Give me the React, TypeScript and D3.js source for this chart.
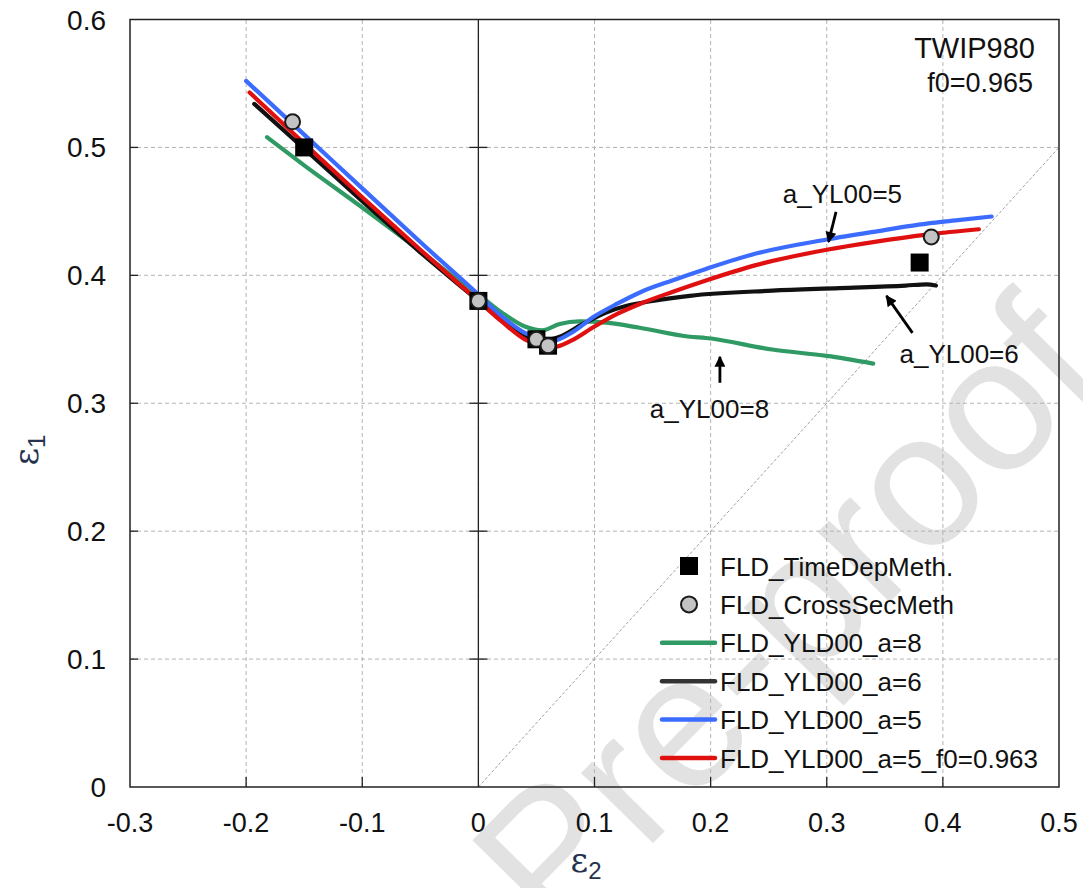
import { useEffect, useRef } from 'react';
import * as d3 from 'd3';

type Pt = [number, number];

const W = 1083;
const H = 888;

const xTicks = [-0.3, -0.2, -0.1, 0, 0.1, 0.2, 0.3, 0.4, 0.5];
const yTicks = [0, 0.1, 0.2, 0.3, 0.4, 0.5, 0.6];
const xTickLabels = ['-0.3', '-0.2', '-0.1', '0', '0.1', '0.2', '0.3', '0.4', '0.5'];
const yTickLabels = ['0', '0.1', '0.2', '0.3', '0.4', '0.5', '0.6'];

// FLD curves (eps2, eps1)
const fldA8: Pt[] = [
  [-0.182, 0.508], [-0.150, 0.486], [-0.100, 0.453], [-0.050, 0.419], [-0.020, 0.398],
  [0.000, 0.385], [0.020, 0.371], [0.040, 0.360], [0.055, 0.357], [0.070, 0.362],
  [0.087, 0.364], [0.110, 0.363], [0.139, 0.359], [0.182, 0.352], [0.196, 0.351],
  [0.253, 0.342], [0.300, 0.337], [0.340, 0.331],
];
const fldA6: Pt[] = [
  [-0.193, 0.534], [-0.150, 0.499], [-0.100, 0.458], [-0.050, 0.418], [0.000, 0.380],
  [0.020, 0.365], [0.040, 0.352], [0.053, 0.349], [0.070, 0.352], [0.090, 0.362],
  [0.110, 0.371], [0.127, 0.376], [0.150, 0.380], [0.182, 0.384],
  [0.253, 0.388], [0.311, 0.390], [0.368, 0.392], [0.386, 0.393], [0.394, 0.392],
];
const fldA5: Pt[] = [
  [-0.200, 0.552], [-0.150, 0.510], [-0.100, 0.468], [-0.050, 0.426], [0.000, 0.385],
  [0.020, 0.368], [0.040, 0.355], [0.055, 0.350], [0.065, 0.349], [0.080, 0.355],
  [0.100, 0.368], [0.120, 0.378], [0.140, 0.387], [0.167, 0.396], [0.196, 0.405],
  [0.239, 0.417], [0.300, 0.428], [0.340, 0.434], [0.391, 0.441], [0.411, 0.443],
  [0.442, 0.446],
];
const fldA5f963: Pt[] = [
  [-0.197, 0.543], [-0.150, 0.503], [-0.100, 0.461], [-0.050, 0.420], [0.000, 0.380],
  [0.020, 0.364], [0.040, 0.350], [0.055, 0.345], [0.065, 0.344], [0.080, 0.349],
  [0.100, 0.360], [0.120, 0.370], [0.140, 0.378], [0.167, 0.387], [0.196, 0.396],
  [0.239, 0.408], [0.300, 0.420], [0.340, 0.426], [0.388, 0.432], [0.431, 0.436],
];

const timeDepPts: Pt[] = [[-0.15, 0.50], [0.0, 0.38], [0.05, 0.35], [0.06, 0.345], [0.38, 0.41]];
const crossSecPts: Pt[] = [[-0.16, 0.52], [0.0, 0.38], [0.05, 0.35], [0.06, 0.345], [0.39, 0.43]];

const legendLabels = [
  'FLD_TimeDepMeth.',
  'FLD_CrossSecMeth',
  'FLD_YLD00_a=8',
  'FLD_YLD00_a=6',
  'FLD_YLD00_a=5',
  'FLD_YLD00_a=5_f0=0.963',
];

// annotation label anchor and arrow (from -> to) in data units
const annLabels = ['a_YL00=5', 'a_YL00=6', 'a_YL00=8'];
const annText: Pt[] = [[0.3135, 0.4566], [0.414, 0.3315], [0.199, 0.2885]];
const annFrom: Pt[] = [[0.308, 0.4496], [0.3738, 0.355], [0.208, 0.316]];
const annTo: Pt[] = [[0.3015, 0.4261], [0.3514, 0.3839], [0.208, 0.3363]];

const C_GREEN = '#2f9a63';
const C_BLACK = '#111111';
const C_BLUE = '#3b6cff';
const C_RED = '#e01010';
const FONT = '"Liberation Sans", Arial, sans-serif';

export default function App() {
  const ref = useRef<SVGSVGElement>(null);

  useEffect(() => {
    const svg = d3.select(ref.current);
    svg.selectAll('*').remove();

    const x = d3.scaleLinear().domain([-0.3, 0.5]).range([130, 1059]);
    const y = d3.scaleLinear().domain([0, 0.6]).range([787, 19.5]);

    svg.append('rect').attr('width', W).attr('height', H).attr('fill', '#fff');

    // watermark
    svg.append('text')
      .attr('transform', 'translate(1110,378) rotate(-45.5)')
      .attr('text-anchor', 'end')
      .style('font-family', FONT).style('font-size', '190px')
      .attr('fill', '#e2e2e2')
      .text('Journal Pre-proof');

    // grid
    const gridX = xTicks.slice(1, -1);
    const gridY = yTicks.slice(1, -1);
    svg.selectAll('line.gx').data(gridX).enter().append('line').attr('class', 'gx')
      .attr('x1', d => x(d)).attr('x2', d => x(d)).attr('y1', y(0)).attr('y2', y(0.6))
      .attr('stroke', '#b4b4b4').attr('stroke-width', 1).attr('stroke-dasharray', '4,3');
    svg.selectAll('line.gy').data(gridY).enter().append('line').attr('class', 'gy')
      .attr('x1', x(-0.3)).attr('x2', x(0.5)).attr('y1', d => y(d)).attr('y2', d => y(d))
      .attr('stroke', '#b4b4b4').attr('stroke-width', 1).attr('stroke-dasharray', '4,3');

    // diagonal eps1 = eps2
    svg.append('line')
      .attr('x1', x(0)).attr('y1', y(0)).attr('x2', x(0.5)).attr('y2', y(0.5))
      .attr('stroke', '#a0a0a0').attr('stroke-width', 1).attr('stroke-dasharray', '3,2');

    // zero line with cross ticks
    svg.append('line').attr('x1', x(0)).attr('x2', x(0)).attr('y1', y(0)).attr('y2', y(0.6))
      .attr('stroke', '#222').attr('stroke-width', 1.3);
    svg.selectAll('line.zt').data(gridY).enter().append('line').attr('class', 'zt')
      .attr('x1', x(0) - 9).attr('x2', x(0) + 9).attr('y1', d => y(d)).attr('y2', d => y(d))
      .attr('stroke', '#222').attr('stroke-width', 1.3);

    // frame
    svg.append('rect')
      .attr('x', x(-0.3)).attr('y', y(0.6)).attr('width', x(0.5) - x(-0.3)).attr('height', y(0) - y(0.6))
      .attr('fill', 'none').attr('stroke', '#222').attr('stroke-width', 1.5);

    // axis ticks
    svg.selectAll('line.bt').data(gridX.filter(d => d !== 0)).enter().append('line').attr('class', 'bt')
      .attr('x1', d => x(d)).attr('x2', d => x(d)).attr('y1', y(0)).attr('y2', y(0) - 10)
      .attr('stroke', '#222').attr('stroke-width', 1.3);
    svg.selectAll('line.lt').data(gridY).enter().append('line').attr('class', 'lt')
      .attr('x1', x(-0.3)).attr('x2', x(-0.3) + 8).attr('y1', d => y(d)).attr('y2', d => y(d))
      .attr('stroke', '#222').attr('stroke-width', 1.3);

    // tick labels
    svg.selectAll('text.xl').data(xTicks).enter().append('text').attr('class', 'xl')
      .attr('x', d => x(d)).attr('y', 832).attr('text-anchor', 'middle')
      .style('font-family', FONT).style('font-size', '27px').attr('fill', '#111')
      .text((_, i) => xTickLabels[i]);
    svg.selectAll('text.yl').data(yTicks).enter().append('text').attr('class', 'yl')
      .attr('x', 106).attr('y', d => y(d) + 10).attr('text-anchor', 'end')
      .style('font-family', FONT).style('font-size', '28px').attr('fill', '#111')
      .text((_, i) => yTickLabels[i]);

    // axis titles
    const t2 = svg.append('text').attr('x', 586).attr('y', 872).attr('text-anchor', 'middle')
      .style('font-family', '"DejaVu Serif", serif').style('font-size', '34px').attr('fill', '#26324d');
    t2.append('tspan').text('ε');
    t2.append('tspan').attr('dy', 7).style('font-size', '24px').style('font-family', FONT).text('2');
    const t1 = svg.append('text').attr('transform', 'translate(38,450) rotate(-90)').attr('text-anchor', 'middle')
      .style('font-family', '"DejaVu Serif", serif').style('font-size', '34px').attr('fill', '#26324d');
    t1.append('tspan').text('ε');
    t1.append('tspan').attr('dy', 7).style('font-size', '24px').style('font-family', FONT).text('1');

    // curves
    const line = d3.line<Pt>().x(d => x(d[0])).y(d => y(d[1])).curve(d3.curveMonotoneX);
    const curves: [Pt[], string][] = [[fldA8, C_GREEN], [fldA6, C_BLACK], [fldA5, C_BLUE], [fldA5f963, C_RED]];
    curves.forEach(([data, color]) => {
      svg.append('path').attr('d', line(data) || '').attr('fill', 'none')
        .attr('stroke', color).attr('stroke-width', 4.2).attr('stroke-linecap', 'round').attr('stroke-linejoin', 'round');
    });

    // markers
    const sq = 18;
    svg.selectAll('rect.td').data(timeDepPts).enter().append('rect').attr('class', 'td')
      .attr('x', d => x(d[0]) - sq / 2).attr('y', d => y(d[1]) - sq / 2)
      .attr('width', sq).attr('height', sq).attr('fill', '#000');
    svg.selectAll('circle.cs').data(crossSecPts).enter().append('circle').attr('class', 'cs')
      .attr('cx', d => x(d[0])).attr('cy', d => y(d[1])).attr('r', 7.5)
      .attr('fill', '#c3c3c3').attr('stroke', '#1a1a1a').attr('stroke-width', 2);

    // annotations
    const defs = svg.append('defs');
    defs.append('marker').attr('id', 'ah').attr('viewBox', '0 0 10 10')
      .attr('refX', 9).attr('refY', 5).attr('markerWidth', 14).attr('markerHeight', 11)
      .attr('markerUnits', 'userSpaceOnUse').attr('orient', 'auto')
      .append('path').attr('d', 'M0,0 L10,5 L0,10 Z').attr('fill', '#000');
    annLabels.forEach((lab, i) => {
      svg.append('line')
        .attr('x1', x(annFrom[i][0])).attr('y1', y(annFrom[i][1]))
        .attr('x2', x(annTo[i][0])).attr('y2', y(annTo[i][1]))
        .attr('stroke', '#000').attr('stroke-width', 2.8).attr('marker-end', 'url(#ah)');
      svg.append('text').attr('x', x(annText[i][0])).attr('y', y(annText[i][1]))
        .attr('text-anchor', 'middle').style('font-family', FONT).style('font-size', '26px')
        .attr('fill', '#111').text(lab);
    });

    // top-right label
    svg.append('text').attr('x', 1035).attr('y', 58).attr('text-anchor', 'end')
      .style('font-family', FONT).style('font-size', '29px').attr('fill', '#111').text('TWIP980');
    svg.append('text').attr('x', 1033).attr('y', 92).attr('text-anchor', 'end')
      .style('font-family', FONT).style('font-size', '27px').attr('fill', '#111').text('f0=0.965');

    // legend
    const lg = svg.append('g');
    const rowY = (i: number) => 566 + i * 38.4;
    const sampleColors = [C_GREEN, '#333333', C_BLUE, C_RED];
    lg.append('rect').attr('x', 689 - 9).attr('y', rowY(0) - 9).attr('width', 18).attr('height', 18).attr('fill', '#000');
    lg.append('circle').attr('cx', 689).attr('cy', rowY(1)).attr('r', 8)
      .attr('fill', '#c3c3c3').attr('stroke', '#1a1a1a').attr('stroke-width', 2);
    sampleColors.forEach((c, i) => {
      lg.append('line').attr('x1', 662).attr('x2', 715).attr('y1', rowY(i + 2)).attr('y2', rowY(i + 2))
        .attr('stroke', c).attr('stroke-width', 4.5).attr('stroke-linecap', 'round');
    });
    legendLabels.forEach((lab, i) => {
      lg.append('text').attr('x', 720).attr('y', rowY(i) + 9.5)
        .style('font-family', FONT).style('font-size', '26px').attr('fill', '#111').text(lab);
    });
  }, []);

  return (
    <svg ref={ref} width={W} height={H} style={{ position: 'absolute', left: 0, top: 0 }} />
  );
}
